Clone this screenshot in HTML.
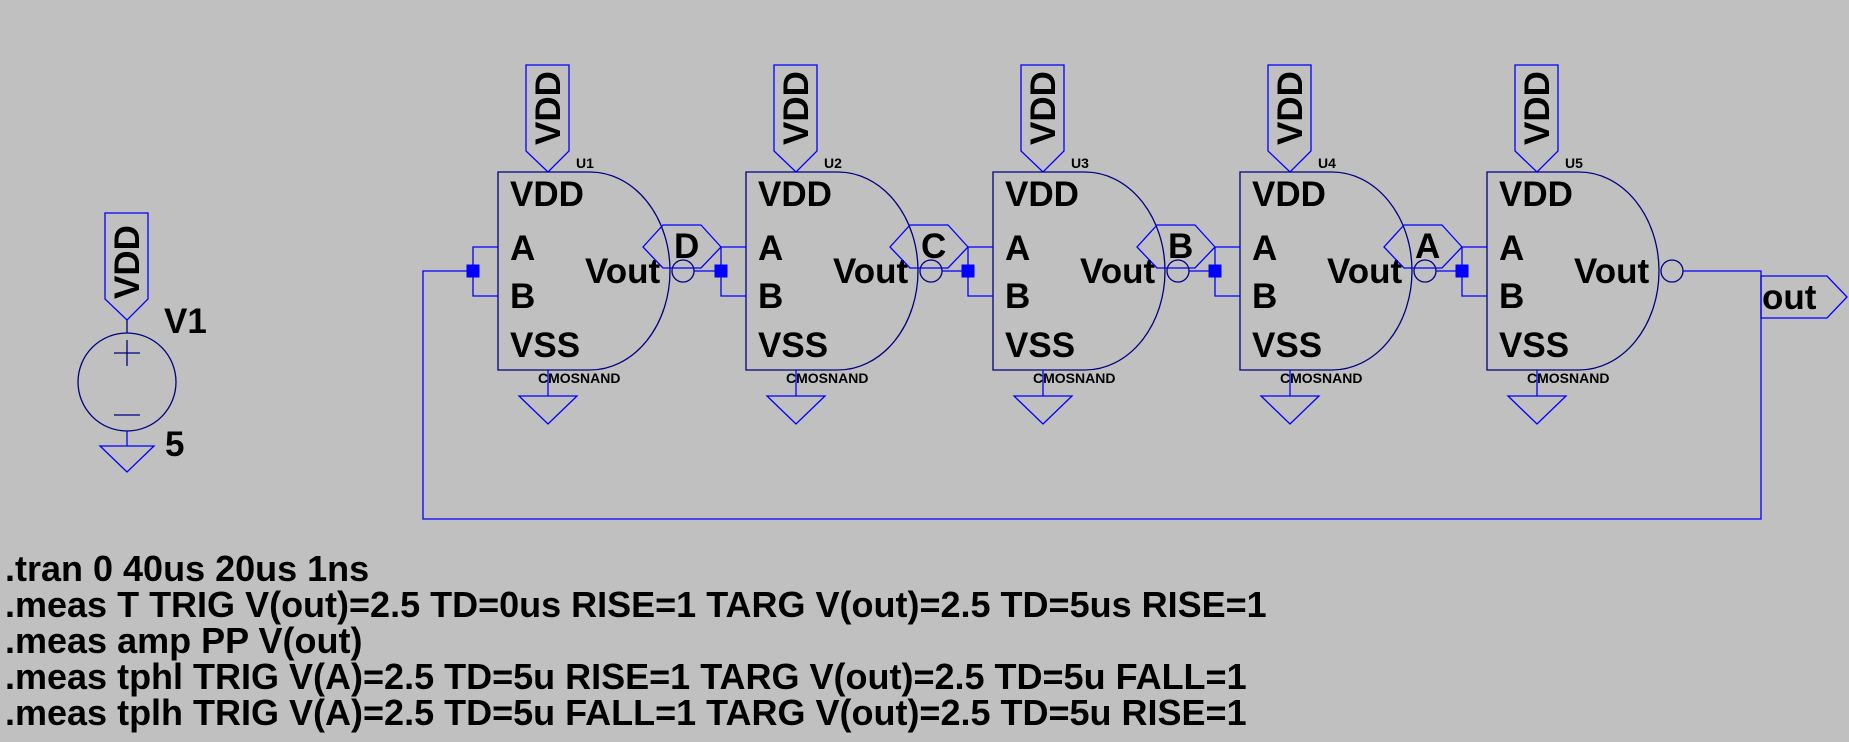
<!DOCTYPE html>
<html><head><meta charset="utf-8"><style>
html,body{margin:0;padding:0;background:#c0c0c0;}
svg{display:block;}
text{font-family:"Liberation Sans",Arial,sans-serif;font-weight:bold;fill:#000;}
</style></head><body>
<svg width="1849" height="742" viewBox="0 0 1849 742" xmlns="http://www.w3.org/2000/svg">
<rect width="1849" height="742" fill="#c0c0c0"/>
<defs>
<g id="gate">
  <path d="M0,0 H92 A80,99 0 0 1 92,198 H0 Z" fill="none" stroke="#000080" stroke-width="1.3"/>
  <circle cx="185" cy="99" r="11" fill="none" stroke="#000080" stroke-width="1.3"/>
  <polygon points="28,-107 71,-107 71,-21 50,0 28,-21" fill="none" stroke="#0000ff" stroke-width="1.3"/>
  <text transform="translate(62,-64) rotate(-90)" font-size="35" text-anchor="middle">VDD</text>
  <text x="12" y="34" font-size="35">VDD</text>
  <text x="12" y="88" font-size="35">A</text>
  <text x="12" y="136" font-size="35">B</text>
  <text x="12" y="185" font-size="35">VSS</text>
  <text x="87" y="111" font-size="35">Vout</text>
  <text x="40" y="211" font-size="14">CMOSNAND</text>
  <line x1="50" y1="198" x2="50" y2="224" stroke="#0000ff" stroke-width="1.3"/>
  <polygon points="21,224 79,224 50,252" fill="none" stroke="#0000ff" stroke-width="1.3"/>
  <polyline points="0,75 -25,75 -25,124 0,124" fill="none" stroke="#0000ff" stroke-width="1.3"/>
  <rect x="-31.5" y="92.5" width="13" height="13" fill="#0000ff"/>
</g>
<g id="netlbl">
  <polygon points="0,0 -20,-22 -58,-22 -78,0 -58,21 -20,21" fill="none" stroke="#0000ff" stroke-width="1.3"/>
</g>
</defs>

<!-- V1 -->
<polygon points="105,213 148,213 148,299 127,320 105,299" fill="none" stroke="#0000ff" stroke-width="1.3"/>
<text transform="translate(139,262) rotate(-90)" font-size="35" text-anchor="middle">VDD</text>
<line x1="127" y1="320" x2="127" y2="333" stroke="#000080" stroke-width="1.3"/>
<circle cx="127" cy="382" r="49" fill="none" stroke="#000080" stroke-width="1.3"/>
<line x1="114" y1="353" x2="140" y2="353" stroke="#000080" stroke-width="1.3"/>
<line x1="127" y1="340" x2="127" y2="366" stroke="#000080" stroke-width="1.3"/>
<line x1="114" y1="415" x2="140" y2="415" stroke="#000080" stroke-width="1.3"/>
<line x1="127" y1="431" x2="127" y2="446" stroke="#0000ff" stroke-width="1.3"/>
<polygon points="100,446 154,446 127,472" fill="none" stroke="#0000ff" stroke-width="1.3"/>
<text x="164" y="333" font-size="35">V1</text>
<text x="165" y="456" font-size="35">5</text>

<!-- gates -->
<g transform="translate(498,172)"><use href="#gate"/><text x="78" y="-4" font-size="14">U1</text></g>
<g transform="translate(746,172)"><use href="#gate"/><text x="78" y="-4" font-size="14">U2</text></g>
<g transform="translate(993,172)"><use href="#gate"/><text x="78" y="-4" font-size="14">U3</text></g>
<g transform="translate(1240,172)"><use href="#gate"/><text x="78" y="-4" font-size="14">U4</text></g>
<g transform="translate(1487,172)"><use href="#gate"/><text x="78" y="-4" font-size="14">U5</text></g>

<!-- inter-gate wires and net labels -->
<g stroke="#0000ff" stroke-width="1.3" fill="none">
  <line x1="694" y1="271" x2="721" y2="271"/>
  <line x1="942" y1="271" x2="968" y2="271"/>
  <line x1="1189" y1="271" x2="1215" y2="271"/>
  <line x1="1436" y1="271" x2="1462" y2="271"/>
  <polyline points="1683,271 1761,271 1761,519 423,519 423,271 467,271"/>
</g>
<g transform="translate(721,247)"><use href="#netlbl"/><text x="-47" y="11" font-size="35">D</text></g>
<g transform="translate(968,247)"><use href="#netlbl"/><text x="-47" y="11" font-size="35">C</text></g>
<g transform="translate(1215,247)"><use href="#netlbl"/><text x="-47" y="11" font-size="35">B</text></g>
<g transform="translate(1462,247)"><use href="#netlbl"/><text x="-47" y="11" font-size="35">A</text></g>

<!-- out label -->
<polygon points="1761,276 1827,276 1847,297 1827,318 1761,318" fill="none" stroke="#0000ff" stroke-width="1.3"/>
<text x="1762" y="309" font-size="35">out</text>

<!-- directives -->
<text x="5" y="581" font-size="36">.tran 0 40us 20us 1ns</text>
<text x="5" y="617" font-size="36">.meas T TRIG V(out)=2.5 TD=0us RISE=1 TARG V(out)=2.5 TD=5us RISE=1</text>
<text x="5" y="653" font-size="36">.meas amp PP V(out)</text>
<text x="5" y="689" font-size="36">.meas tphl TRIG V(A)=2.5 TD=5u RISE=1 TARG V(out)=2.5 TD=5u FALL=1</text>
<text x="5" y="725" font-size="36">.meas tplh TRIG V(A)=2.5 TD=5u FALL=1 TARG V(out)=2.5 TD=5u RISE=1</text>
</svg>
</body></html>
